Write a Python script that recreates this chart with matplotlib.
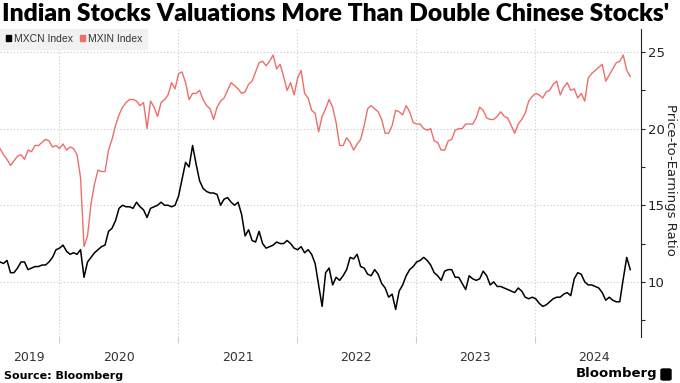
import matplotlib
matplotlib.use("Agg")
import matplotlib.pyplot as plt
from matplotlib.patches import Rectangle, FancyBboxPatch
import pandas as pd

# P/E readings, roughly every 11 days from early Jul 2019 to early Oct 2024
start_date = "2019-07-03"
end_date = "2024-10-19"

mxin = [
    18.7, 18.3, 18.0, 17.6, 17.9, 18.2, 18.3, 18.0, 18.6, 18.5,
    18.9, 18.9, 19.1, 19.3, 19.2, 18.8, 18.9, 18.7, 19.0, 18.6,
    18.8, 18.7, 18.3, 16.8, 12.3, 13.0, 15.1, 16.4, 17.3, 17.2,
    17.2, 18.6, 19.3, 20.2, 20.9, 21.4, 21.7, 21.9, 21.9, 21.8,
    21.5, 21.7, 20.0, 21.8, 21.4, 20.8, 21.7, 21.9, 22.2, 23.0,
    22.6, 23.6, 23.7, 23.0, 21.9, 22.3, 22.3, 22.5, 21.9, 21.5,
    21.3, 20.6, 21.4, 21.8, 22.0, 22.5, 23.0, 22.8, 22.6, 22.3,
    22.4, 22.9, 23.1, 23.7, 24.3, 24.4, 24.1, 24.4, 24.8, 23.9,
    24.2, 23.4, 22.5, 23.0, 22.2, 23.3, 23.8, 22.3, 22.0, 21.2,
    21.0, 19.8, 20.8, 21.3, 21.9, 21.4, 20.4, 18.9, 18.9, 19.4,
    19.1, 18.6, 19.0, 19.3, 20.2, 21.3, 21.5, 21.3, 21.1, 20.6,
    19.7, 19.7, 20.2, 21.2, 21.1, 20.9, 21.5, 21.1, 20.4, 20.3,
    20.3, 20.0, 19.9, 20.0, 19.2, 19.1, 18.6, 18.6, 19.2, 19.3,
    19.9, 20.0, 20.0, 20.3, 20.3, 20.3, 20.7, 21.4, 21.2, 20.7,
    20.6, 20.6, 20.8, 21.1, 20.8, 20.7, 20.2, 19.7, 20.3, 20.6,
    21.0, 21.8, 22.1, 22.3, 22.2, 22.0, 22.4, 22.5, 22.9, 23.1,
    22.2, 22.7, 23.0, 22.5, 22.6, 22.0, 22.3, 21.8, 23.3, 23.6,
    23.8, 24.0, 24.2, 23.1, 23.5, 23.9, 24.3, 24.4, 24.8, 23.8,
    23.4,
]

mxcn = [
    11.3, 11.2, 11.4, 10.6, 10.6, 10.9, 11.3, 11.3, 10.8, 10.9,
    11.0, 11.0, 11.1, 11.1, 11.3, 11.6, 12.1, 12.2, 12.4, 12.0,
    11.8, 11.9, 11.8, 12.1, 10.3, 11.3, 11.6, 11.9, 12.1, 12.3,
    12.4, 13.3, 13.5, 14.0, 14.8, 15.0, 14.9, 14.9, 14.8, 15.2,
    14.9, 14.7, 14.2, 14.8, 14.9, 15.0, 15.2, 15.0, 15.0, 14.9,
    15.0, 15.6, 16.7, 17.8, 17.5, 18.9, 17.7, 16.6, 16.1, 15.9,
    15.8, 15.8, 15.7, 15.0, 15.4, 15.5, 15.2, 15.0, 15.2, 14.4,
    13.0, 13.4, 12.7, 12.6, 13.3, 12.5, 12.2, 12.3, 12.4, 12.6,
    12.5, 12.5, 12.7, 12.5, 12.2, 12.1, 12.3, 11.9, 12.1, 11.8,
    11.2, 9.8, 8.4, 10.6, 10.9, 9.8, 10.3, 10.1, 10.4, 10.8,
    11.6, 11.5, 11.8, 11.0, 10.9, 10.5, 10.4, 10.8, 10.5, 9.9,
    9.6, 9.0, 9.2, 8.2, 9.4, 9.8, 10.4, 10.8, 11.0, 11.3,
    11.4, 11.6, 11.4, 11.1, 10.6, 10.4, 10.1, 10.7, 10.8, 10.8,
    10.3, 10.3, 9.9, 9.5, 10.4, 10.2, 10.1, 10.2, 10.7, 10.4,
    9.8, 10.0, 9.7, 9.7, 9.6, 9.5, 9.4, 9.3, 9.6, 9.4,
    9.0, 8.9, 9.0, 8.9, 8.6, 8.4, 8.5, 8.7, 8.9, 9.0,
    9.0, 9.2, 9.3, 9.1, 10.2, 10.6, 10.5, 10.0, 9.8, 9.8,
    9.7, 9.6, 9.3, 8.8, 9.0, 8.8, 8.7, 8.7, 10.2, 11.6,
    10.8,
]

year_labels = ["2019", "2020", "2021", "2022", "2023", "2024"]
label_dates = ["2019-10-01", "2020-07-01", "2021-07-01", "2022-07-01", "2023-07-01", "2024-07-01"]
grid_dates = ["2020-01-01", "2021-01-01", "2022-01-01", "2023-01-01", "2024-01-01"]

title = "Indian Stocks Valuations More Than Double Chinese Stocks'"
red = "#ec6f6a"
small = ["Liberation Sans", "DejaVu Sans"]

dates = pd.date_range(start_date, end_date, periods=len(mxcn))

fig = plt.figure(figsize=(6.8, 3.83), dpi=100)
ax = fig.add_axes([0, 0.12, 641 / 680, (337 - 29) / 383])

ax.plot(dates, mxin, color=red, lw=1.0)
ax.plot(dates, mxcn, color="black", lw=1.1)

ax.set_xlim(pd.Timestamp("2019-07-03"), pd.Timestamp("2024-11-21"))
ax.set_ylim(6.4, 26.5)

for s in ["left", "top", "bottom"]:
    ax.spines[s].set_visible(False)
ax.spines["right"].set_color("#222222")
ax.spines["right"].set_linewidth(0.8)

ax.yaxis.tick_right()
ax.set_yticks([10, 15, 20, 25])
ax.set_yticks([7.5, 12.5, 17.5, 22.5], minor=True)
ax.tick_params(axis="y", which="both", direction="out", length=3, width=0.8,
               color="#222222", labelsize=9.5, labelcolor="#222222", pad=2)

ax.set_xticks([pd.Timestamp(d) for d in grid_dates])
ax.set_xticklabels([])
ax.set_xticks([pd.Timestamp(d) for d in label_dates], minor=True)
ax.set_xticklabels(year_labels, minor=True)
ax.tick_params(axis="x", which="major", length=4, color="#cccccc")
ax.tick_params(axis="x", which="minor", length=0, labelsize=9, labelcolor="#333333", pad=10)

ax.grid(axis="y", which="major", linestyle=(0, (1, 2)), color="#c8c8c8", lw=0.8)
ax.grid(axis="x", which="major", linestyle=(0, (1, 2)), color="#c8c8c8", lw=0.8)

fig.text(671 / 680, 1 - 180 / 383, "Price-to-Earnings Ratio", rotation=270,
         fontsize=9.5, color="#222222", ha="center", va="center")

# legend box top-left
fig.patches.append(Rectangle((0, 1 - 49 / 383), 147 / 680, 20 / 383,
                             transform=fig.transFigure, color="#f1f1f1", zorder=5))
fig.patches.append(Rectangle((6 / 680, 1 - 41 / 383), 5 / 680, 6 / 383,
                             transform=fig.transFigure, color="black", zorder=6))
fig.patches.append(Rectangle((80 / 680, 1 - 41 / 383), 5 / 680, 6 / 383,
                             transform=fig.transFigure, color=red, zorder=6))
fig.text(14 / 680, 1 - 38.5 / 383, "MXCN Index", fontsize=7.5, family=small,
         color="#333333", va="center", zorder=7)
fig.text(88 / 680, 1 - 38.5 / 383, "MXIN Index", fontsize=7.5, family=small,
         color="#333333", va="center", zorder=7)

t = fig.text(2 / 680, 1 - 14 / 383, title, fontsize=16, fontweight="heavy",
             family=["Lato", "DejaVu Sans"], va="center")
fig.canvas.draw()
w = t.get_window_extent().width
t.set_fontsize(16 * 666 / w)

fig.text(4 / 680, 1 - 376 / 383, "Source: Bloomberg", fontsize=8, fontweight="bold",
         va="center")
fig.text(657 / 680, 1 - 374 / 383, "Bloomberg", fontsize=9.5, fontweight="bold",
         ha="right", va="center")
fig.patches.append(FancyBboxPatch((661 / 680, 1 - 380 / 383), 10 / 680, 11 / 383,
                                  boxstyle="round,pad=0,rounding_size=0.003",
                                  transform=fig.transFigure, color="black"))

fig.savefig("out.png", dpi=100)
